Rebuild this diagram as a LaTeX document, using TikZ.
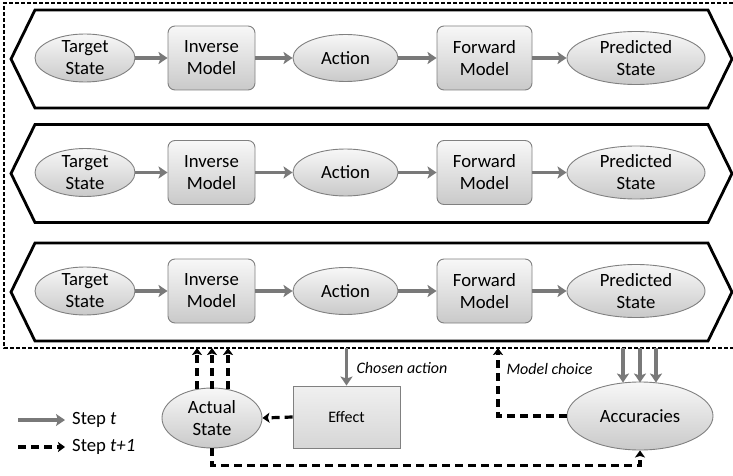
\documentclass[tikz,border=0pt]{standalone}
\usepackage{fontspec}
\setmainfont{Carlito}
\usetikzlibrary{shapes.geometric,arrows.meta,calc}

\tikzset{
  state/.style={ellipse, draw=gray, line width=0.9pt, top color=gray!6, bottom color=gray!42,
    inner xsep=0pt, inner ysep=-6pt, align=center, font=\fontsize{18.7}{22}\selectfont},
  model/.style={rectangle, rounded corners=7pt, draw=gray, line width=0.9pt, top color=gray!6,
    bottom color=gray!42, inner sep=0pt, align=center, minimum height=64pt, font=\fontsize{18.7}{22}\selectfont},
  effectbox/.style={rectangle, draw=gray, line width=0.9pt, top color=gray!12, bottom color=gray!32,
    inner sep=0pt, font=\fontsize{16}{19}\selectfont},
  band/.style={black, line width=2.8pt, line join=miter},
  flow/.style={draw=gray!95!black, line width=3.2pt, -{Stealth[length=9pt,width=12pt,inset=2pt]}},
  nextflow/.style={black, line width=3.2pt, dash pattern=on 8pt off 5pt, -{Stealth[length=7pt,width=10pt,inset=1.5pt]}},
  note/.style={font=\fontsize{16}{19}\selectfont\itshape},
  legend/.style={font=\fontsize{18.7}{22}\selectfont, inner xsep=0pt}
}

\begin{document}
\begin{tikzpicture}[x=1pt,y=-1pt]
  \useasboundingbox (0,0) rectangle (733,476);
  % dashed frame round the three pairs
  \draw[line width=1.9pt, dash pattern=on 4pt off 2pt] (733,3) -- (4,3) -- (4,348) -- (733,348);
  \coordinate (frame) at (0,348);
  % inverse / forward model pairs
  \foreach \i/\c in {1/59,2/173.5,3/292}{
    \draw[band] (35,\c-49) -- (708,\c-49) -- (732,\c) -- (708,\c+49) -- (35,\c+49) -- (11,\c) -- cycle;
    \node[state, minimum width=100pt, minimum height=48pt] (ts\i) at (85,\c-1) {Target\\State};
    \node[model, minimum width=87pt] (im\i) at (211.5,\c-1) {Inverse\\Model};
    \node[state, minimum width=105pt, minimum height=47pt] (ac\i) at (345.5,\c-1) {Action};
    \node[model, minimum width=95pt] (fm\i) at (484.5,\c-1) {Forward\\Model};
    \node[state, minimum width=138pt, minimum height=53pt] (ps\i) at (636,\c-1) {Predicted\\State};
    \draw[flow] (ts\i) -- (im\i);
    \draw[flow] (im\i) -- (ac\i);
    \draw[flow] (ac\i) -- (fm\i);
    \draw[flow] (fm\i) -- (ps\i);
  }
  % bottom part
  \node[state, minimum width=100pt, minimum height=60pt] (as) at (212,418) {Actual\\State};
  \node[effectbox, minimum width=107pt, minimum height=62pt] (ef) at (346.5,417) {Effect};
  \node[state, minimum width=146pt, minimum height=68pt] (acc) at (640,416) {Accuracies};
  \coordinate (mc) at (498,348);
  \draw[flow] (ef.north |- frame) -- (ef.north);
  \node[note, anchor=west] (cal) at (353,368) {Chosen action};
  \foreach \dx [count=\k] in {-17,0,16}{
    \coordinate (in\k) at ($(acc.north)+(\dx,1)$);
    \draw[flow] (in\k |- frame) -- (in\k);
  }
  \foreach \dx [count=\k] in {-15,0,16}{
    \coordinate (out\k) at ($(as.north)+(\dx,1)$);
    \draw[nextflow] (out\k) -- (out\k |- frame);
  }
  \draw[nextflow] (ef.west) -- (as.east);
  \draw[nextflow] (acc.west) -| (mc);
  \node[note, anchor=west] (mcl) at (503,369) {Model choice};
  \draw[nextflow] (as.south) -- ++(0,17) -| (acc.south);
  % legend
  \node[legend, anchor=west] (lg1) at (72,420) {Step \textit{t}};
  \node[legend, anchor=west] (lg2) at (72,447) {Step \textit{t+1}};
  \coordinate (lg1s) at (18,420);
  \coordinate (lg2s) at (18,447);
  \draw[flow] (lg1s) -- ([xshift=-7pt]lg1.west);
  \draw[nextflow] (lg2s) -- ([xshift=-7pt]lg2.west);
\end{tikzpicture}
\end{document}
